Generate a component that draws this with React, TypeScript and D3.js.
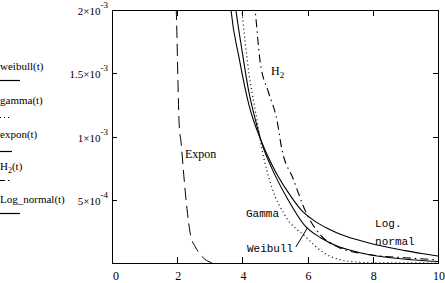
import React, { useEffect, useRef } from "react";
import * as d3 from "d3";

type Pt = [number, number];

// values, t vs hazard
const weibull: Pt[] = [
  [3.7, 2.2e-3], [3.8, 2.0e-3], [4.0, 1.66e-3], [4.2, 1.35e-3], [4.4, 1.13e-3],
  [4.63, 0.92e-3], [4.9, 0.75e-3], [5.4, 0.5e-3], [5.9, 0.3e-3], [6.4, 0.2e-3],
  [6.9, 0.135e-3], [7.4, 0.095e-3], [7.9, 0.065e-3], [9.0, 0.03e-3], [10, 0.012e-3],
];
const gamma: Pt[] = [
  [3.9, 2.2e-3], [3.98, 2.0e-3], [4.2, 1.5e-3], [4.4, 1.2e-3], [4.6, 0.9e-3],
  [4.9, 0.6e-3], [5.3, 0.38e-3], [5.97, 0.2e-3], [6.5, 0.08e-3], [7.0, 0.025e-3],
  [7.5, 0.008e-3], [8.0, 0.002e-3], [10, 0],
];
const expon: Pt[] = [
  [1.9, 2.3e-3], [1.97, 2.0e-3], [2.06, 1.1e-3], [2.12, 0.95e-3], [2.2, 0.7e-3],
  [2.3, 0.43e-3], [2.41, 0.22e-3], [2.55, 0.13e-3], [2.7, 0.07e-3], [2.9, 0.02e-3],
  [3.1, 0],
];
const h2: Pt[] = [
  [4.3, 2.2e-3], [4.39, 2.0e-3], [4.54, 1.6e-3], [4.8, 1.35e-3], [5.06, 1.13e-3],
  [5.21, 0.9e-3], [5.55, 0.67e-3], [5.97, 0.39e-3], [6.4, 0.22e-3], [6.9, 0.13e-3],
  [7.8, 0.07e-3], [9.4, 0.035e-3], [10, 0.025e-3],
];
const logNormal: Pt[] = [
  [3.55, 2.3e-3], [3.65, 2.0e-3], [3.9, 1.62e-3], [4.2, 1.25e-3], [4.6, 0.95e-3],
  [5.0, 0.73e-3], [5.4, 0.56e-3], [5.8, 0.42e-3], [6.2, 0.335e-3], [6.6, 0.275e-3],
  [7.0, 0.228e-3], [7.5, 0.185e-3], [8.0, 0.15e-3], [8.5, 0.122e-3], [9.0, 0.098e-3],
  [9.5, 0.075e-3], [10, 0.055e-3],
];

const xTicks = [0, 2, 4, 6, 8, 10];
const yTicks = [5e-4, 1e-3, 1.5e-3, 2e-3];
const yTickLabels = [
  { base: "5×10", exp: "-4" },
  { base: "1×10", exp: "-3" },
  { base: "1.5×10", exp: "-3" },
  { base: "2×10", exp: "-3" },
];

const legendNames = ["weibull(t)", "gamma(t)", "expon(t)", "H2(t)", "Log_normal(t)"];

export default function App() {
  const ref = useRef<SVGSVGElement>(null);
  const width = 445;
  const height = 283;

  useEffect(() => {
    if (!ref.current) return;
    const svg = d3.select(ref.current);
    svg.selectAll("*").remove();

    const x = d3.scaleLinear().domain([0, 10]).range([112, 438]);
    const y = d3.scaleLinear().domain([0, 2e-3]).range([263, 10]);
    const serif = "'Liberation Serif', serif";
    const mono = "'Liberation Mono', monospace";

    svg.append("defs").append("clipPath").attr("id", "plotClip")
      .append("rect")
      .attr("x", x(0)).attr("y", y(2e-3))
      .attr("width", x(10) - x(0)).attr("height", y(0) - y(2e-3));

    // frame
    svg.append("rect")
      .attr("x", x(0) + 0.5).attr("y", y(2e-3) + 0.5)
      .attr("width", x(10) - x(0)).attr("height", y(0) - y(2e-3))
      .attr("fill", "none").attr("stroke", "#000");

    // ticks inside frame
    xTicks.slice(1, -1).forEach((t) => {
      const px = Math.round(x(t)) + 0.5;
      svg.append("line").attr("x1", px).attr("x2", px)
        .attr("y1", y(0)).attr("y2", y(0) - 6).attr("stroke", "#000");
      svg.append("line").attr("x1", px).attr("x2", px)
        .attr("y1", y(2e-3)).attr("y2", y(2e-3) + 6).attr("stroke", "#000");
    });
    yTicks.slice(0, -1).forEach((v) => {
      const py = Math.round(y(v)) + 0.5;
      svg.append("line").attr("x1", x(0)).attr("x2", x(0) + 5)
        .attr("y1", py).attr("y2", py).attr("stroke", "#000");
      svg.append("line").attr("x1", x(10)).attr("x2", x(10) - 5)
        .attr("y1", py).attr("y2", py).attr("stroke", "#000");
    });

    // tick labels
    svg.append("g").selectAll("text").data(xTicks).enter().append("text")
      .attr("x", (d) => x(d) + (d === 0 ? 4 : 1))
      .attr("y", 280)
      .attr("text-anchor", "middle")
      .attr("font-family", serif).attr("font-size", 12)
      .text((d) => String(d));

    yTicks.forEach((v, i) => {
      const t = svg.append("text")
        .attr("x", x(0) - 4).attr("y", y(v) + 5)
        .attr("text-anchor", "end")
        .attr("font-family", serif).attr("font-size", 11);
      t.append("tspan").text(yTickLabels[i].base);
      t.append("tspan").attr("dy", -7).attr("font-size", 9).text(yTickLabels[i].exp);
    });

    // curves
    const line = d3.line<Pt>()
      .x((d) => x(d[0]))
      .y((d) => y(d[1]))
      .curve(d3.curveMonotoneX);

    const series: { data: Pt[]; dash: string | null; w: number }[] = [
      { data: weibull, dash: null, w: 1.1 },
      { data: gamma, dash: "1,3", w: 1.2 },
      { data: expon, dash: "12,6", w: 1 },
      { data: h2, dash: "8,4,1.5,4", w: 1.1 },
      { data: logNormal, dash: null, w: 1.1 },
    ];

    const plot = svg.append("g").attr("clip-path", "url(#plotClip)");
    series.forEach((s) => {
      plot.append("path")
        .datum(s.data)
        .attr("fill", "none")
        .attr("stroke", "#000")
        .attr("stroke-width", s.w)
        .attr("stroke-dasharray", s.dash)
        .attr("d", line);
    });

    // legend on the left
    const legendY = [70, 104, 138, 170, 203];
    const lineY = [80, 117, 151, 180, 213];
    const lineLen = [20, 12, 12, 12, 20];
    legendNames.forEach((name, i) => {
      const t = svg.append("text")
        .attr("x", 0).attr("y", legendY[i])
        .attr("font-family", serif).attr("font-size", 11);
      if (name.startsWith("H2")) {
        t.append("tspan").text("H");
        t.append("tspan").attr("dy", 3).attr("font-size", 8).text("2");
        t.append("tspan").attr("dy", -3).text("(t)");
      } else {
        t.text(name);
      }
      svg.append("line")
        .attr("x1", 0).attr("x2", lineLen[i])
        .attr("y1", lineY[i] + 0.5).attr("y2", lineY[i] + 0.5)
        .attr("stroke", "#000")
        .attr("stroke-width", 1.2)
        .attr("stroke-dasharray", series[i].dash === "8,4,1.5,4" ? "5,3,1.5,3" : series[i].dash);
    });

    // annotations (data coordinates)
    const notes = [
      { t: 2.24, v: 0.83e-3, s: "Expon", f: serif, size: 12 },
      { t: 4.11, v: 0.364e-3, s: "Gamma", f: mono, size: 11 },
      { t: 4.14, v: 0.087e-3, s: "Weibull", f: mono, size: 11 },
      { t: 8.07, v: 0.285e-3, s: "Log.", f: mono, size: 11 },
      { t: 8.07, v: 0.142e-3, s: "normal", f: mono, size: 11 },
    ];
    notes.forEach((n) => {
      svg.append("text")
        .attr("x", x(n.t)).attr("y", y(n.v))
        .attr("font-family", n.f).attr("font-size", n.size)
        .text(n.s);
    });
    const h2Label = svg.append("text")
      .attr("x", x(4.88)).attr("y", y(1.486e-3))
      .attr("font-family", serif).attr("font-size", 12);
    h2Label.append("tspan").text("H");
    h2Label.append("tspan").attr("dy", 3).attr("font-size", 9).text("2");

    // pointer to the Weibull curve
    svg.append("line")
      .attr("x1", x(5.64)).attr("y1", y(0.126e-3))
      .attr("x2", x(6.0)).attr("y2", y(0.28e-3))
      .attr("stroke", "#000");
  }, []);

  return (
    <svg
      ref={ref}
      width={width}
      height={height}
      style={{ position: "absolute", left: 0, top: 0, background: "#fff" }}
    />
  );
}
